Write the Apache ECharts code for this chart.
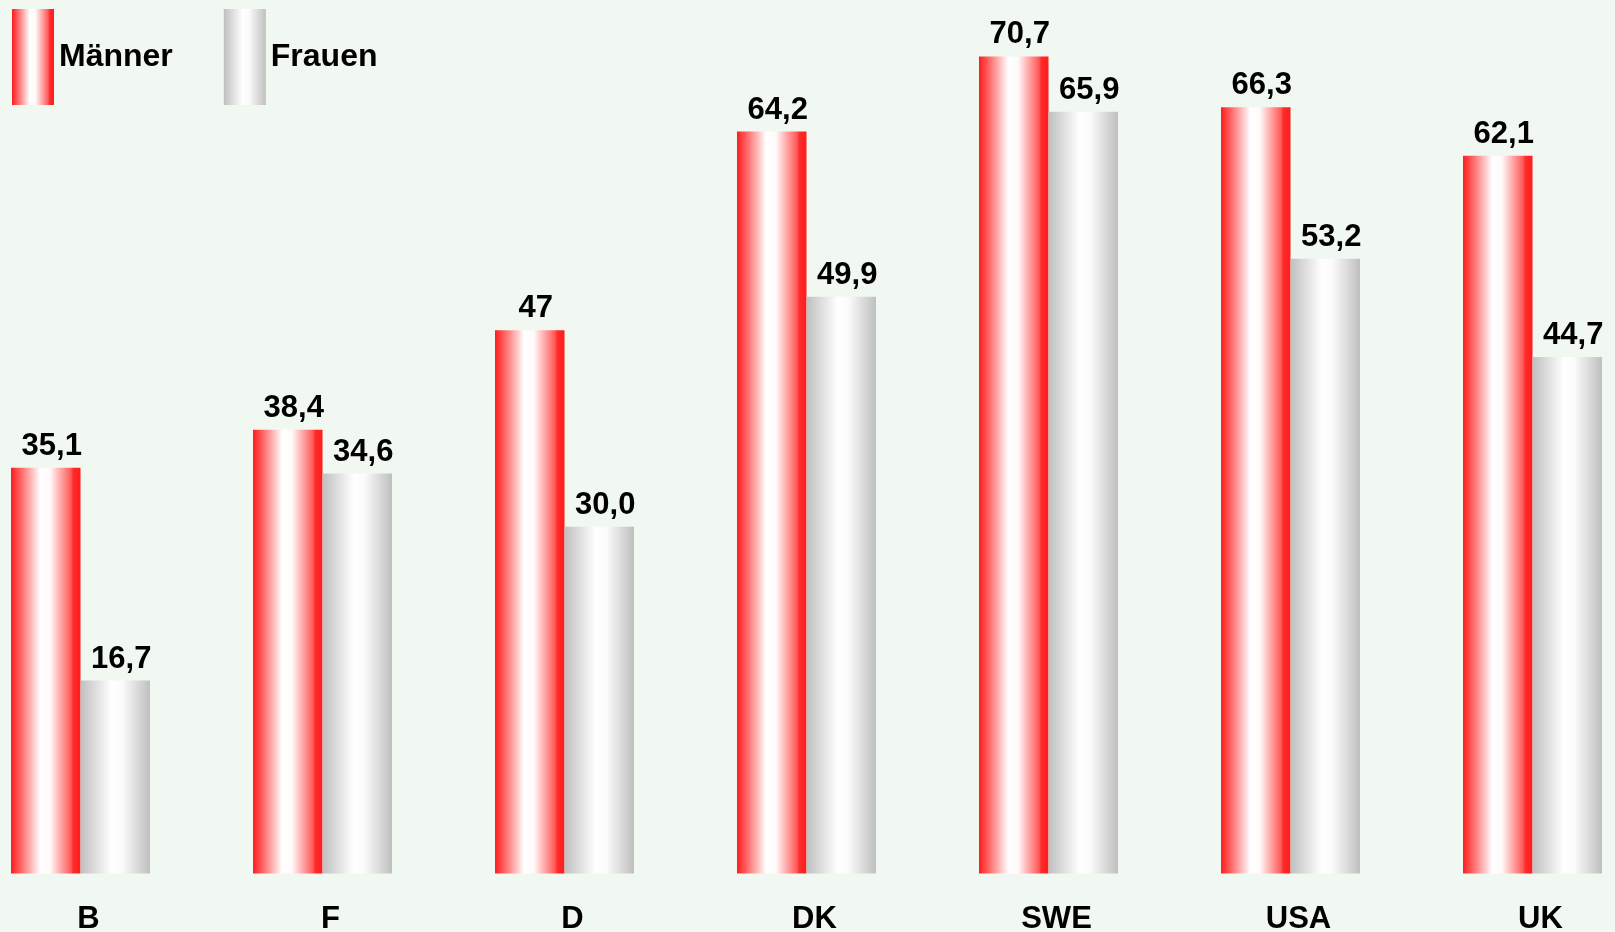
<!DOCTYPE html>
<html>
<head>
<meta charset="utf-8">
<script src="https://cdn.jsdelivr.net/npm/echarts@6/dist/echarts.min.js"></script>
<style>
  html, body { margin: 0; padding: 0; background: #f1f8f1; }
  #chart { width: 1615px; height: 932px; }
</style>
</head>
<body>
<div id="chart"></div>
<script>
// Countries and values per group
const categories = ['B', 'F', 'D', 'DK', 'SWE', 'USA', 'UK'];
const maenner = [35.1, 38.4, 47, 64.2, 70.7, 66.3, 62.1];
const frauen = [16.7, 34.6, 30.0, 49.9, 65.9, 53.2, 44.7];
const seriesNames = ['Männer', 'Frauen'];

const FONT = '"Liberation Sans", Arial, sans-serif';

function hGradient(stops) {
  return new echarts.graphic.LinearGradient(0, 0, 1, 0,
    stops.map(s => ({ offset: s[0], color: s[1] })));
}
const redFill = hGradient([[0, '#ff1c1c'], [0.12, '#ff5a5a'], [0.42, '#ffffff'], [0.56, '#fffafa'], [0.86, '#ff5a5a'], [0.9, '#ff2a2a'], [1, '#ff1c1c']]);
const grayFill = hGradient([[0, '#bfbfbf'], [0.45, '#ffffff'], [0.6, '#fbfbfb'], [1, '#bfbfbf']]);

const labelStyle = {
  show: true,
  position: 'top',
  distance: 6,
  offset: [6, 0],
  color: '#000',
  fontFamily: FONT,
  fontWeight: 'bold',
  fontSize: 31
};

const chart = echarts.init(document.getElementById('chart'), null, { renderer: 'canvas' });
chart.setOption({
  backgroundColor: '#f1f8f1',
  animation: false,
  legend: {
    left: 7,
    top: 4,
    itemWidth: 42,
    itemHeight: 96,
    itemGap: 51,
    icon: 'rect',
    textStyle: { fontFamily: FONT, fontWeight: 'bold', fontSize: 32, color: '#000' },
    data: seriesNames
  },
  // the plot area runs past both edges of the page, so the last group is clipped
  grid: {
    left: -40.5, width: 1694, top: 6.7, bottom: 58.5,
    containLabel: false,
    outerBoundsMode: 'none'
  },
  xAxis: {
    type: 'category',
    data: categories,
    axisLine: { show: false },
    axisTick: { show: false },
    axisLabel: {
      margin: 30,
      padding: [0, 0, 0, 16],
      interval: 0,
      color: '#000',
      fontFamily: FONT,
      fontWeight: 'bold',
      fontSize: 31
    }
  },
  yAxis: {
    type: 'value',
    min: 0,
    max: 75,
    show: false,
    splitLine: { show: false }
  },
  series: [
    {
      name: seriesNames[0],
      type: 'bar',
      data: maenner,
      barWidth: 69.5,
      barGap: '0%',
      itemStyle: { color: redFill },
      label: Object.assign({}, labelStyle, {
        formatter: p => String(p.value).replace('.', ',')
      })
    },
    {
      name: seriesNames[1],
      type: 'bar',
      data: frauen,
      barWidth: 69.5,
      barGap: '0%',
      itemStyle: { color: grayFill },
      label: Object.assign({}, labelStyle, {
        formatter: p => p.value.toFixed(1).replace('.', ',')
      })
    }
  ]
});
</script>
</body>
</html>
